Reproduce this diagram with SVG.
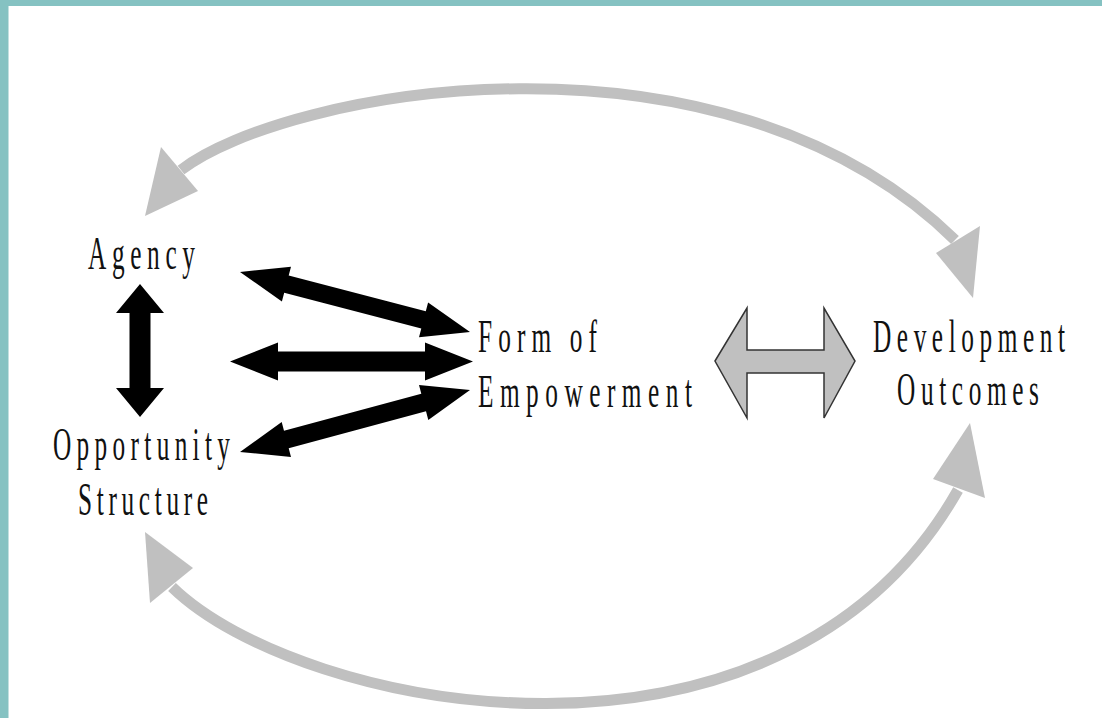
<svg xmlns="http://www.w3.org/2000/svg" width="1102" height="718" viewBox="0 0 1102 718">
  <style>
    .lbl { font-family: "Liberation Serif", "Times New Roman", serif; font-size: 46px; fill: #111; }
    .arc { fill: none; stroke: #C0C0C0; stroke-width: 11; stroke-linecap: butt; }
    .head { fill: #C0C0C0; }
    .blk { fill: #000; }
    .block { fill: #C0C0C0; stroke: #333; stroke-width: 1.5; stroke-linejoin: miter; }
  </style>
  <rect x="0" y="0" width="1102" height="718" fill="#fff"/>
  <rect x="0" y="0" width="1102" height="6" fill="#85C2C2"/>
  <rect x="0" y="0" width="8.5" height="718" fill="#85C2C2"/>

  <g id="connectors">
    <!-- grey feedback arcs -->
    <path class="arc" d="M 181 170 C 285 90, 720 10, 955 240"/>
    <polygon class="head" points="145,216 161,147 198,191"/>
    <polygon class="head" points="973,298 980,226 936,253"/>
    <path class="arc" d="M 172 587 C 300 712, 780 805, 958 490"/>
    <polygon class="head" points="145,532 193,568 150,603"/>
    <polygon class="head" points="970,423 933,479 985,498"/>

    <!-- black double arrows -->
    <path class="blk" d="M 140 284 L 164 313 L 150.5 313 L 150.5 388 L 164 388 L 140 417 L 116 388 L 129.5 388 L 129.5 313 L 116 313 Z"/>
    <path class="blk" d="M 240 272 L 281.9 301.5 L 284.2 292.8 L 421.3 328.6 L 419 337.3 L 470 332 L 428.1 302.5 L 425.8 311.2 L 288.7 275.4 L 291 266.7 Z"/>
    <path class="blk" d="M 230 361.5 L 278 380.5 L 278 371.5 L 425 371.5 L 425 380.5 L 473 361.5 L 425 342.5 L 425 351.5 L 278 351.5 L 278 342.5 Z"/>
    <path class="blk" d="M 240 452 L 291 456.9 L 288.7 448.2 L 426 411.2 L 428.3 419.9 L 470 390 L 419 385.1 L 421.3 393.8 L 284 430.8 L 281.7 422.1 Z"/>

    <!-- grey block double arrow -->
    <path class="block" d="M 715 361 L 747 308 L 747 350 L 824 350 L 824 308 L 855 361 L 824 418 L 824 373 L 747 373 L 747 418 Z"/>
  </g>

  <g id="agency">
    <text class="lbl" transform="translate(88,269) scale(0.55,1)" textLength="194.5" lengthAdjust="spacing">Agency</text>
  </g>
  <g id="opportunity-structure">
    <text class="lbl" transform="translate(53,460) scale(0.55,1)" textLength="321.8" lengthAdjust="spacing">Opportunity</text>
    <text class="lbl" transform="translate(78,515) scale(0.55,1)" textLength="236.4" lengthAdjust="spacing">Structure</text>
  </g>
  <g id="form-of-empowerment">
    <text class="lbl" transform="translate(478,352) scale(0.55,1)" textLength="216.4" lengthAdjust="spacing">Form of</text>
    <text class="lbl" transform="translate(478,407) scale(0.55,1)" textLength="389" lengthAdjust="spacing">Empowerment</text>
  </g>
  <g id="development-outcomes">
    <text class="lbl" transform="translate(873,352) scale(0.55,1)" textLength="349" lengthAdjust="spacing">Development</text>
    <text class="lbl" transform="translate(897,405) scale(0.55,1)" textLength="258" lengthAdjust="spacing">Outcomes</text>
  </g>
</svg>
